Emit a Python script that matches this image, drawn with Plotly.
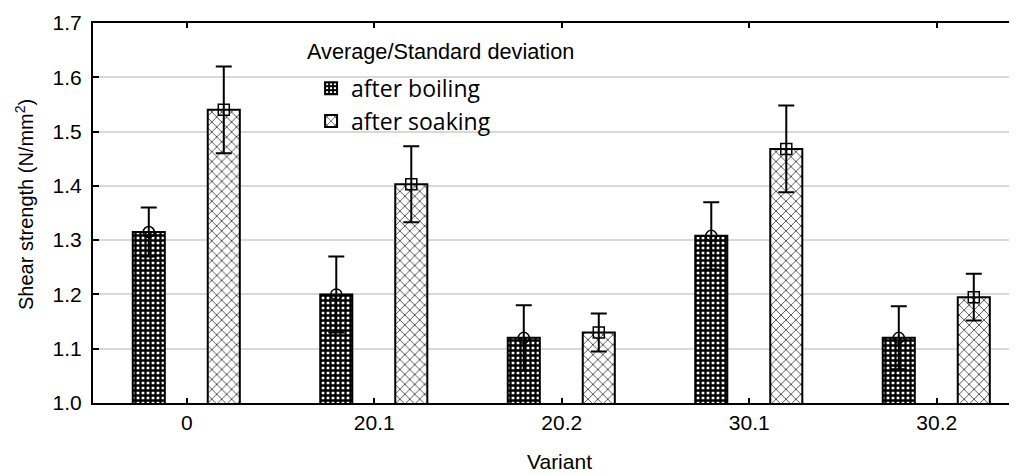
import numpy as np
import plotly.graph_objects as go

# ---- data ----
variants = ["0", "20.1", "20.2", "30.1", "30.2"]
boiling_mean = [1.315, 1.200, 1.120, 1.308, 1.120]
boiling_sd = [0.045, 0.070, 0.060, 0.062, 0.058]
soaking_mean = [1.540, 1.403, 1.130, 1.468, 1.195]
soaking_sd = [0.080, 0.070, 0.035, 0.080, 0.043]
y_ticks = [1.0, 1.1, 1.2, 1.3, 1.4, 1.5, 1.6, 1.7]
y_ticktext = ["1.0", "1.1", "1.2", "1.3", "1.4", "1.5", "1.6", "1.7"]

# ---- geometry / style ----
pos = np.arange(len(variants))
BAR_W = 0.171
OFF_B = -0.288
OFF_S = 0.112
FONT = "Arial"

fig = go.Figure()

fig.add_trace(go.Bar(
    x=pos, y=boiling_mean, name="after boiling",
    width=BAR_W, offset=OFF_B,
    marker=dict(color="white", line=dict(color="black", width=2),
                pattern=dict(shape="+", fgcolor="black", bgcolor="white",
                             size=5, solidity=0.7, fillmode="replace")),
    error_y=dict(type="data", array=boiling_sd, color="black", thickness=2, width=8),
))
fig.add_trace(go.Bar(
    x=pos, y=soaking_mean, name="after soaking",
    width=BAR_W, offset=OFF_S,
    marker=dict(color="white", line=dict(color="black", width=2),
                pattern=dict(shape="x", fgcolor="black", bgcolor="white",
                             size=7, solidity=0.18, fillmode="replace")),
    error_y=dict(type="data", array=soaking_sd, color="black", thickness=2, width=8),
))

fig.add_trace(go.Scatter(
    x=pos + OFF_B + BAR_W / 2, y=boiling_mean, mode="markers", showlegend=False,
    marker=dict(symbol="circle-open", size=11, color="black", line=dict(width=1.5)),
    hoverinfo="skip",
))
fig.add_trace(go.Scatter(
    x=pos + OFF_S + BAR_W / 2, y=soaking_mean, mode="markers", showlegend=False,
    marker=dict(symbol="square-open", size=11, color="black", line=dict(width=1.5)),
    hoverinfo="skip",
))

# page body has an 8px default margin: figure is shrunk by 8px to fit the window
fig.update_layout(
    width=1009, height=467,
    margin=dict(l=85, r=0, t=15, b=72),
    paper_bgcolor="white", plot_bgcolor="white",
    barmode="overlay",
    font=dict(family=FONT, size=21, color="black"),
    showlegend=True,
    legend=dict(
        x=0.236, y=0.885, xanchor="left", yanchor="top",
        bgcolor="rgba(0,0,0,0)", borderwidth=0,
        font=dict(family="Open Sans", size=23, color="black"),
        tracegroupgap=0,
    ),
    xaxis=dict(
        range=[-0.5, 4.428], tickmode="array", tickvals=pos, ticktext=variants,
        showline=True, linecolor="black", linewidth=2, mirror="ticks",
        ticks="inside", ticklen=5, tickwidth=2, tickcolor="black",
        showgrid=False, zeroline=False,
        tickfont=dict(family=FONT, size=21, color="black"),
        ticklabelstandoff=0,
    ),
    yaxis=dict(
        range=[1.0, 1.7], tickmode="array", tickvals=y_ticks, ticktext=y_ticktext,
        showline=True, linecolor="black", linewidth=2, mirror=False,
        ticks="inside", ticklen=6, tickwidth=2, tickcolor="black",
        showgrid=True, gridcolor="#d9d9d9", gridwidth=2, zeroline=False,
        tickfont=dict(family=FONT, size=21, color="black"),
        ticklabelstandoff=5,
    ),
    annotations=[
        dict(text="Average/Standard deviation", xref="paper", yref="paper",
             x=0.2294, y=0.924, xanchor="left", yanchor="middle", showarrow=False,
             font=dict(family=FONT, size=21.7, color="black")),
        dict(text="Shear strength (N/mm<sup>2</sup>)", textangle=-90,
             xref="paper", yref="paper", x=0, y=0.5, xanchor="center", yanchor="middle",
             xshift=-69, yshift=8, showarrow=False,
             font=dict(family=FONT, size=20, color="black")),
        dict(text="Variant", xref="paper", yref="paper", x=0.505, y=0,
             xanchor="center", yanchor="bottom", yshift=-72, showarrow=False,
             font=dict(family=FONT, size=21, color="black")),
    ],
)

fig.write_html("out.html")
